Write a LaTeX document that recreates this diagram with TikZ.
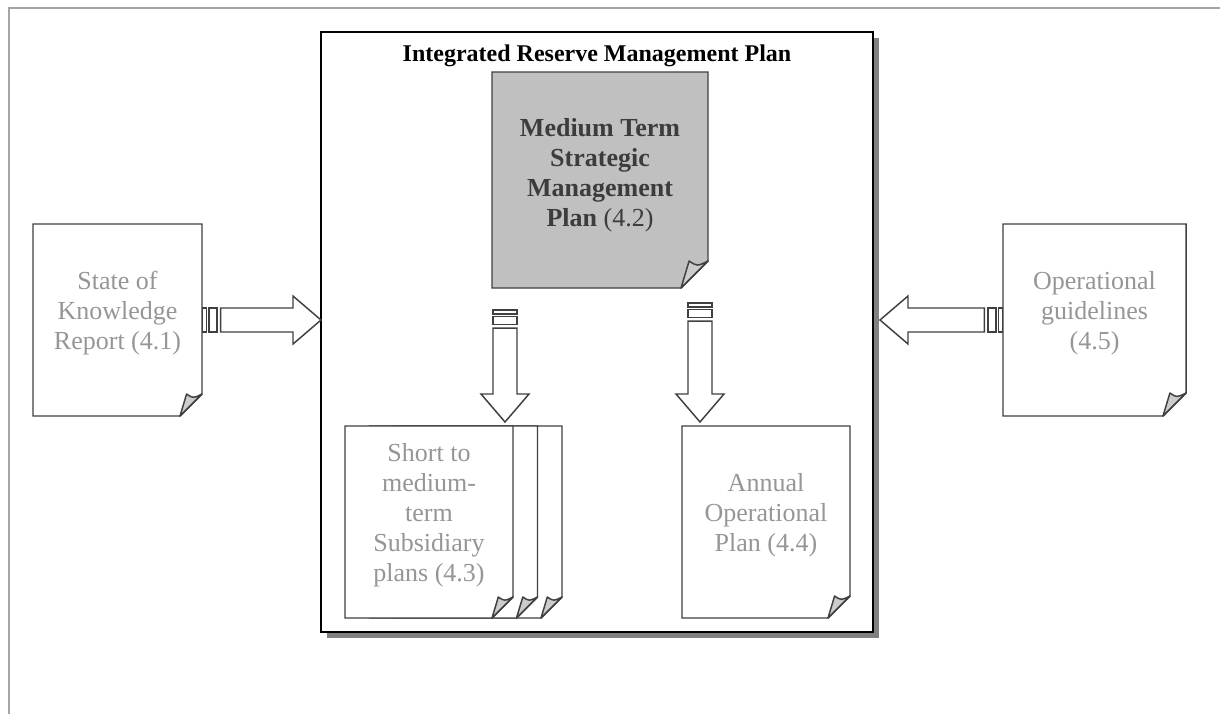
\documentclass[tikz,border=0pt]{standalone}
\usepackage{fontspec}
\setmainfont{Liberation Serif}
\usepackage{tikz}
\usetikzlibrary{calc,backgrounds,shadows}

\definecolor{framegray}{RGB}{165,165,165}
\definecolor{docedge}{RGB}{64,64,64}
\definecolor{softtext}{RGB}{150,150,150}
\definecolor{mtfill}{RGB}{192,192,192}
\definecolor{mttext}{RGB}{60,60,60}
\definecolor{flapgray}{RGB}{204,204,204}
\definecolor{shadowgray}{RGB}{128,128,128}

\tikzset{
  mainbox/.style={draw=black,fill=white,line width=1.5pt,inner sep=0pt,outer sep=0pt,
    minimum width=414pt,minimum height=450pt,
    drop shadow={shadow xshift=4.5pt,shadow yshift=-4.5pt,fill=shadowgray,opacity=1}},
  title/.style={font=\fontsize{18}{22.5}\selectfont\bfseries},
  doc/.style={align=center,inner sep=0pt,outer sep=0pt,minimum width=126pt,
    minimum height=144pt,text=softtext,font=\fontsize{19.5}{22.5}\selectfont},
  docline/.style={draw=docedge,line width=1.1pt},
  blockarr/.style={draw=docedge,fill=white,line width=1.1pt},
}

% page with a curled lower right corner
\newcommand\docpage[3]{%
  \draw[docline,fill=#3] (#1.north west) -- (#1.north east)
    -- ($(#1.south east)+(0,-#2)$) -- ($(#1.south east)+(-#2,0)$)
    -- (#1.south west) -- cycle;
  \draw[docline,fill=flapgray,line join=round] ($(#1.south east)+(-#2,0)$)
    -- ($(#1.south east)+(-0.7*#2,-#2)$)
    .. controls ($(#1.south east)+(-0.4*#2,-0.8*#2)$) .. ($(#1.south east)+(0,-#2)$)
    -- cycle;}

% hollow arrow with two small bars at its tail
\newcommand\hollowarrow[2]{%
  \draw[blockarr] ($(#1)!0.4pt!(#2)!9pt!90:(#2)$) rectangle ($(#1)!3.4pt!(#2)!9pt!-90:(#2)$);
  \draw[blockarr] ($(#1)!5.25pt!(#2)!9pt!90:(#2)$) rectangle ($(#1)!11.25pt!(#2)!9pt!-90:(#2)$);
  \draw[blockarr] ($(#1)!13.9pt!(#2)!9pt!90:(#2)$)
    -- ($(#2)!21pt!(#1)!9pt!-90:(#1)$)
    -- ($(#2)!21pt!(#1)!18pt!-90:(#1)$)
    -- (#2)
    -- ($(#2)!21pt!(#1)!18pt!90:(#1)$)
    -- ($(#2)!21pt!(#1)!9pt!90:(#1)$)
    -- ($(#1)!13.9pt!(#2)!9pt!-90:(#2)$) -- cycle;}

\newcommand\lift{\rule[-15pt]{0pt}{15pt}}

\begin{document}
\begin{tikzpicture}[x=0.75pt,y=-0.75pt,font=\fontsize{18}{22.5}\selectfont]
\useasboundingbox (0,0) rectangle (1220,714);
\draw[framegray,line width=1.5pt] (9,714) -- (9,8) -- (1220,8);

\begin{scope}[on background layer]
\node[mainbox] (irmp) at (597,332) {};
\end{scope}
\node[title] (irmptitle) at (597,56) {Integrated Reserve Management Plan};

% the documents
\node[doc,minimum width=162pt,minimum height=162pt,text=mttext] (mtsmp) at (600,180)
  {\textbf{Medium Term}\\\textbf{Strategic}\\\textbf{Management}\\\textbf{Plan} (4.2)\rule[-12pt]{0pt}{12pt}};
\node[doc,minimum width=126.75pt] (sok) at (117.5,320) {State of\\Knowledge\\Report (4.1)\lift};
\node[doc] (sub3) at (478,522) {};
\node[doc] (sub2) at (453.5,522) {};
\node[doc] (sub1) at (429,522) {Short to\\medium-\\term\\Subsidiary\\plans (4.3)\lift};
\node[doc] (aop) at (766,522) {Annual\\Operational\\Plan (4.4)\lift};
\node[doc,minimum width=137.25pt] (guide) at (1094.5,320) {Operational\\guidelines\\(4.5)\lift};

\begin{scope}[on background layer]
\docpage{mtsmp}{27}{mtfill}
\docpage{sok}{22}{white}
\docpage{sub3}{21}{white}
\docpage{sub2}{21}{white}
\docpage{sub1}{21}{white}
\docpage{aop}{22}{white}
\docpage{guide}{23}{white}
\end{scope}

% arrows
\coordinate (sok-in) at (sok.east -| irmp.west);
\coordinate (guide-in) at ($(guide.west -| irmp.east)+(7,0)$);
\coordinate (mt-l) at (505,309.5);
\coordinate (mt-r) at (700,302.5);
\coordinate (sub-in) at ($(mt-l |- sub1.north)+(0,-4)$);
\coordinate (aop-in) at ($(mt-r |- aop.north)+(0,-4)$);
\hollowarrow{sok.east}{sok-in}
\hollowarrow{guide.west}{guide-in}
\hollowarrow{mt-l}{sub-in}
\hollowarrow{mt-r}{aop-in}
\end{tikzpicture}
\end{document}
